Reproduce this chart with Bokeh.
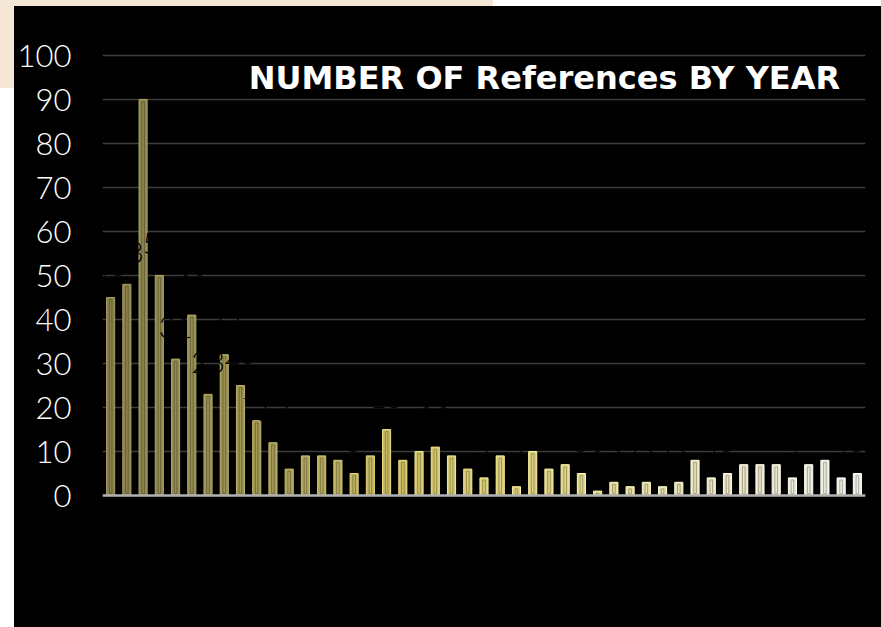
from bokeh.plotting import figure
from bokeh.models import FixedTicker, Span, Label, ColumnDataSource, Range1d, Div
from bokeh.layouts import column, row
from bokeh.embed import file_html
from bokeh.resources import INLINE
from bokeh.core.properties import value

# ---- data ----
counts = [45, 48, 90, 50, 31, 41, 23, 32, 25, 17, 12, 6, 9, 9, 8, 5, 9, 15, 8, 10,
          11, 9, 6, 4, 9, 2, 10, 6, 7, 5, 1, 3, 2, 3, 2, 3, 8, 4, 5, 7,
          7, 7, 4, 7, 8, 4, 5]
positions = list(range(1, len(counts) + 1))
y_ticks = [0, 10, 20, 30, 40, 50, 60, 70, 80, 90, 100]
title_text = "NUMBER OF References BY YEAR"

# ---- styling / layout (page pixel coordinates) ----
PAGE_W, PAGE_H = 881, 627
OX, OY = 14, 6                              # black chart area starts here
FL, FR, FT, FB = 101, 865, 6, 627          # frame edges on the page
ZERO_PX, PX_PER_UNIT = 495, 4.4
n = len(counts)
x0, x1 = 0.5, n + 0.5
y1 = (ZERO_PX - FT) / PX_PER_UNIT
y0 = -(FB - ZERO_PX) / PX_PER_UNIT

def px_to_x(px):
    return x0 + (px - FL) * (x1 - x0) / (FR - FL)

def px_to_y(py):
    return (ZERO_PX - py) / PX_PER_UNIT

stops = [(0.0, (0x8a, 0x82, 0x4e)), (0.2, (0xa2, 0x98, 0x56)), (0.42, (0xd3, 0xc5, 0x6c)),
         (0.62, (0xe0, 0xd6, 0x8c)), (0.78, (0xe6, 0xe1, 0xbc)), (1.0, (0xef, 0xee, 0xe4))]

def grad(t):
    for (ta, ca), (tb, cb) in zip(stops, stops[1:]):
        if ta <= t <= tb:
            f = (t - ta) / (tb - ta)
            return tuple(int(round(a + (b - a) * f)) for a, b in zip(ca, cb))
    return stops[-1][1]

def hexc(c):
    return "#%02x%02x%02x" % c

fills, edges, inners = [], [], []
for i in range(n):
    c = grad(i / (n - 1))
    fills.append(hexc(c))
    edges.append(hexc(tuple(min(255, int(v * 1.12 + 10)) for v in c)))
    inners.append(hexc(tuple(int(v * 0.72) for v in c)))

src = ColumnDataSource(dict(x=positions, top=counts, label=[str(v) for v in counts],
                            fill=fills, edge=edges, inner=inners,
                            inner_top=[v - 0.5 for v in counts]))

p = figure(width=PAGE_W - OX, height=PAGE_H - OY, x_range=Range1d(x0, x1), y_range=Range1d(y0, y1),
           x_axis_location=None, toolbar_location=None, output_backend="svg",
           min_border_left=FL - OX, min_border_right=PAGE_W - FR, min_border_top=FT - OY,
           min_border_bottom=0, background_fill_color="black", border_fill_color="black",
           outline_line_color=None, margin=0, styles={"background-color": "black"})

p.xgrid.visible = False
p.ygrid.ticker = FixedTicker(ticks=y_ticks)
p.ygrid.grid_line_color = "#3c3c3c"
p.ygrid.grid_line_width = 1.5

ax = p.yaxis[0]
ax.ticker = FixedTicker(ticks=y_ticks)
ax.axis_line_color = None
ax.major_tick_line_color = None
ax.minor_tick_line_color = None
ax.major_tick_out = 0
ax.major_tick_in = 0
ax.major_label_standoff = 31
ax.major_label_text_color = "white"
ax.major_label_text_font = "Lato Light"
ax.major_label_text_font_size = "31px"

p.vbar(x="x", top="top", bottom=0, width=0.5, fill_color="fill", line_color="edge",
       line_width=1, source=src)
p.vbar(x="x", top="inner_top", bottom=0.4, width=0.16, fill_color=None, line_color="inner",
       line_width=1, source=src)

p.add_layout(Span(location=0, dimension="width", line_color="#b0b0b0", line_width=2.5))

p.text(x="x", y="top", text="label", y_offset=-32, text_align="center", text_baseline="middle",
       text_color="black", text_font=value("Lato Light"), text_font_size="29px", source=src)

p.add_layout(Label(x=px_to_x(543.5), y=px_to_y(77), text=title_text, text_align="center",
                   text_baseline="middle", text_color="white", text_font="DejaVu Sans",
                   text_font_style="bold", text_font_size="32px"))

BEIGE, WHITE = "#f5e7d5", "#ffffff"
top_strip = row(Div(text="", width=493, height=OY, margin=0, styles={"background-color": BEIGE}),
                Div(text="", width=PAGE_W - 493, height=OY, margin=0, styles={"background-color": WHITE}),
                spacing=0, margin=0)
left_strip = column(Div(text="", width=OX, height=88 - OY, margin=0, styles={"background-color": BEIGE}),
                    Div(text="", width=OX, height=PAGE_H - 88, margin=0, styles={"background-color": WHITE}),
                    spacing=0, margin=0)
page = column(top_strip, row(left_strip, p, spacing=0, margin=0), spacing=0, margin=0)

open("out.html", "w").write(file_html(page, INLINE))
